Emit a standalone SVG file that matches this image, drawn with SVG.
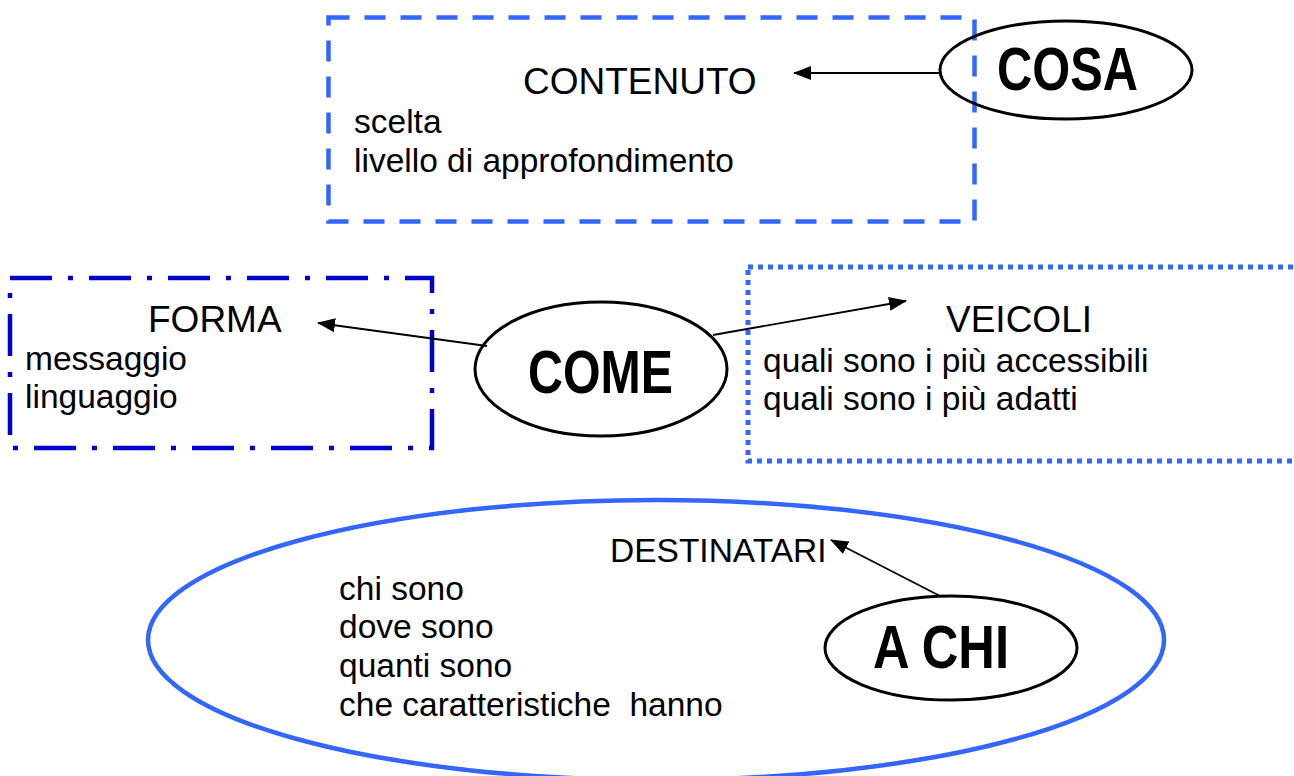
<svg xmlns="http://www.w3.org/2000/svg" width="1294" height="776" viewBox="0 0 1294 776">
  <style>
    .t { font-family: "Liberation Sans", Arial, sans-serif; fill: #000; }
    .title { font-size: 37px; }
    .body { font-size: 33.5px; }
    .big { font-size: 61px; font-weight: bold; }
    .oval { fill: none; stroke: #000; stroke-width: 3; }
    .conn { stroke: #000; stroke-width: 1.8; fill: none; marker-end: url(#arrow); }
  </style>
  <defs>
    <marker id="arrow" viewBox="0 0 18 14" refX="17" refY="7" markerWidth="18" markerHeight="14" markerUnits="userSpaceOnUse" orient="auto">
      <path d="M0,0 L18,7 L0,14 z" fill="#000"/>
    </marker>
  </defs>
  <rect width="1294" height="776" fill="#fff"/>

  <g id="contenuto">
    <rect x="328.5" y="17.5" width="646" height="204" fill="none" stroke="#3366FF" stroke-width="4.5" stroke-dasharray="21 15"/>
    <text class="t title" x="523" y="94">CONTENUTO</text>
    <text class="t body" x="354" y="133">scelta</text>
    <text class="t body" x="354" y="172">livello di approfondimento</text>
  </g>

  <g id="cosa">
    <ellipse class="oval" cx="1066" cy="70" rx="126" ry="49"/>
    <text class="t big" x="997" y="90" textLength="141" lengthAdjust="spacingAndGlyphs">COSA</text>
  </g>

  <g id="forma">
    <rect x="10" y="278" width="422" height="170" fill="none" stroke="#0000CC" stroke-width="4.5" stroke-dasharray="42 16 5 16"/>
    <text class="t title" x="148" y="332">FORMA</text>
    <text class="t body" x="25" y="370">messaggio</text>
    <text class="t body" x="25" y="408">linguaggio</text>
  </g>

  <g id="veicoli">
    <rect x="748" y="267" width="560" height="194" fill="none" stroke="#3366FF" stroke-width="5" stroke-dasharray="5 5"/>
    <text class="t title" x="946" y="332">VEICOLI</text>
    <text class="t body" x="763" y="372">quali sono i più accessibili</text>
    <text class="t body" x="763" y="410">quali sono i più adatti</text>
  </g>

  <g id="come">
    <ellipse class="oval" cx="601" cy="369" rx="126" ry="67"/>
    <text class="t big" x="528" y="393" font-size="62" textLength="145" lengthAdjust="spacingAndGlyphs">COME</text>
  </g>

  <g id="destinatari">
    <ellipse cx="656" cy="640" rx="508" ry="140" fill="none" stroke="#3366FF" stroke-width="4.5"/>
    <text class="t body" x="610" y="562">DESTINATARI</text>
    <text class="t body" x="339" y="600">chi sono</text>
    <text class="t body" x="339" y="638">dove sono</text>
    <text class="t body" x="339" y="677">quanti sono</text>
    <text class="t body" x="339" y="716" xml:space="preserve">che caratteristiche  hanno</text>
  </g>

  <g id="achi">
    <ellipse class="oval" cx="951" cy="648" rx="126" ry="52"/>
    <text class="t big" x="873" y="668" textLength="136" lengthAdjust="spacingAndGlyphs">A CHI</text>
  </g>

  <g id="connectors">
    <line class="conn" x1="940" y1="73" x2="794" y2="73"/>
    <line class="conn" x1="487" y1="346" x2="318" y2="323"/>
    <line class="conn" x1="713" y1="335" x2="906" y2="301"/>
    <line class="conn" x1="940" y1="596" x2="831" y2="540"/>
  </g>
</svg>
